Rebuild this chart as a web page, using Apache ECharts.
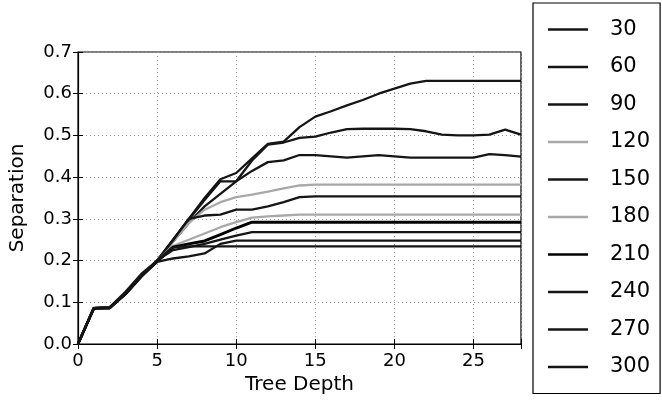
<!DOCTYPE html>
<html>
<head>
<meta charset="utf-8">
<script src="https://cdn.jsdelivr.net/npm/echarts@6/dist/echarts.min.js"></script>
<style>
html,body{margin:0;padding:0;background:#fff;}
#chart{width:662px;height:400px;}
</style>
</head>
<body>
<div id="chart"></div>
<script>
// ---- data ----
const depths = [0,1,2,3,4,5,6,7,8,9,10,11,12,13,14,15,16,17,18,19,20,21,22,23,24,25,26,27,28];
const seriesNames = ['30','60','90','120','150','180','210','240','270','300'];
const s30  = [0,.086,.088,.125,.168,.2,.25,.3,.35,.395,.41,.445,.48,.485,.52,.545,.558,.572,.585,.6,.612,.624,.631,.631,.631,.631,.631,.631,.631];
const s60  = [0,.085,.086,.122,.165,.198,.248,.298,.345,.39,.39,.44,.478,.483,.494,.497,.507,.515,.516,.516,.516,.515,.51,.502,.5,.5,.502,.514,.502];
const s90  = [0,.086,.087,.12,.163,.2,.245,.29,.33,.36,.39,.415,.436,.44,.453,.453,.45,.447,.45,.453,.45,.447,.447,.447,.447,.447,.455,.453,.449];
const s120 = [0,.086,.086,.12,.162,.198,.245,.29,.322,.34,.352,.358,.365,.373,.38,.382,.382,.382,.382,.382,.382,.382,.382,.382,.382,.382,.382,.382,.382];
const s150 = [0,.086,.087,.121,.164,.2,.248,.3,.308,.31,.322,.322,.33,.34,.352,.354,.354,.354,.354,.354,.354,.354,.354,.354,.354,.354,.354,.354,.354];
const s180 = [0,.086,.086,.12,.163,.2,.235,.25,.265,.28,.292,.303,.306,.308,.31,.31,.31,.31,.31,.31,.31,.31,.31,.31,.31,.31,.31,.31,.31];
const s210 = [0,.086,.087,.12,.162,.198,.232,.24,.247,.262,.278,.292,.292,.292,.292,.292,.292,.292,.292,.292,.292,.292,.292,.292,.292,.292,.292,.292,.292];
const s240 = [0,.085,.086,.12,.162,.2,.225,.232,.24,.25,.26,.268,.268,.268,.268,.268,.268,.268,.268,.268,.268,.268,.268,.268,.268,.268,.268,.268,.268];
const s270 = [0,.086,.086,.12,.163,.197,.205,.21,.217,.24,.248,.248,.248,.248,.248,.248,.248,.248,.248,.248,.248,.248,.248,.248,.248,.248,.248,.248,.248];
const s300 = [0,.086,.087,.121,.163,.2,.232,.234,.234,.234,.234,.234,.234,.234,.234,.234,.234,.234,.234,.234,.234,.234,.234,.234,.234,.234,.234,.234,.234];
const allValues = [s30,s60,s90,s120,s150,s180,s210,s240,s270,s300];
const seriesColors = ['#151515','#151515','#151515','#a8a8a8','#151515','#a8a8a8','#000000','#151515','#151515','#151515'];
const seriesWidths = [2.3,2.3,2.3,2.3,2.3,2.3,2.9,2.3,2.3,2.3];
const yTicks = [0,0.1,0.2,0.3,0.4,0.5,0.6,0.7];
const xTicks = [0,5,10,15,20,25];

const FONT = 'DejaVu Sans';
const chart = echarts.init(document.getElementById('chart'), null, {renderer:'canvas'});

const gridLine = {show:true, lineStyle:{color:'#9a9a9a', type:[1,3], width:1}};
const tickIn = {show:true, inside:true, length:5, lineStyle:{color:'#000', width:1}};

const series = seriesNames.map((n,i)=>({
  name:n, type:'line', symbol:'none', smooth:false, animation:false,
  data: depths.map((d,j)=>[d, allValues[i][j]]),
  lineStyle:{color:seriesColors[i], width:seriesWidths[i]},
  itemStyle:{color:seriesColors[i]},
  xAxisIndex:0, yAxisIndex:0
}));

chart.setOption({
  animation:false,
  backgroundColor:'#fff',
  grid:{left:77, right:141, top:52, bottom:54, show:true, borderColor:'#000', borderWidth:1.2, containLabel:false},
  legend:{
    orient:'vertical', left:533, top:3,
    padding:[16,10,16,15],
    icon:'rect',
    itemWidth:40, itemHeight:2.5, itemGap:16.5,
    borderColor:'#000', borderWidth:1.2,
    textStyle:{fontFamily:FONT, fontSize:21, color:'#000', padding:[0,0,0,17]},
    data: seriesNames
  },
  xAxis:[{
    type:'value', min:0, max:28, interval:5,
    axisLine:{show:true, lineStyle:{color:'#000', width:1.2}},
    axisTick:tickIn, splitLine:gridLine,
    axisLabel:{fontFamily:FONT, fontSize:18, color:'#000', margin:8,
      formatter:(v)=> xTicks.includes(v) ? String(v) : ''},
    name:'Tree Depth', nameLocation:'middle', nameGap:31,
    nameTextStyle:{fontFamily:FONT, fontSize:20, color:'#000'}
  },{
    type:'value', min:0, max:28, interval:5, position:'top',
    axisLine:{show:false}, axisTick:tickIn, axisLabel:{show:false}, splitLine:{show:false}
  }],
  yAxis:[{
    type:'value', min:0, max:0.7, interval:0.1,
    axisLine:{show:true, lineStyle:{color:'#000', width:1.2}},
    axisTick:tickIn, splitLine:gridLine,
    axisLabel:{fontFamily:FONT, fontSize:18, color:'#000', margin:6,
      formatter:(v)=> v.toFixed(1)},
    name:'Separation', nameLocation:'middle', nameGap:50, nameRotate:90,
    nameTextStyle:{fontFamily:FONT, fontSize:20, color:'#000'}
  },{
    type:'value', min:0, max:0.7, interval:0.1, position:'right',
    axisLine:{show:false}, axisTick:tickIn, axisLabel:{show:false}, splitLine:{show:false}
  }],
  series: series
});
</script>
</body>
</html>
